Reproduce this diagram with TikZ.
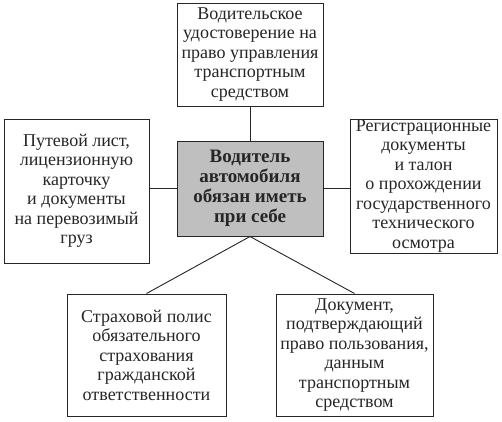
\documentclass[tikz,border=0pt]{standalone}
\usepackage{fontspec}
\setmainfont{Liberation Serif}
\begin{document}
\begin{tikzpicture}[x=1pt,y=-1pt,
  box/.style={draw=black!85,line width=1pt,fill=white,align=center,inner sep=0pt,
    font=\fontsize{18}{19.5}\selectfont,text=black!85},
  mainbox/.style={box,fill=black!25,font=\fontsize{19}{20}\selectfont\bfseries},
  conn/.style={draw=black!85,line width=0.9pt}]
\useasboundingbox[fill=white] (0,0) rectangle (502,421);
\node[mainbox,minimum width=146pt,minimum height=95pt] (c) at (250,188.5)
  {Водитель\\автомобиля\\обязан иметь\\при себе};
\node[box,minimum width=146pt,minimum height=103pt] (t) at (250,54.5)
  {Водительское\\удостоверение на\\право управления\\транспортным\\средством};
\node[box,minimum width=145pt,minimum height=144pt] (l) at (76.5,191)
  {Путевой лист,\\лицензионную\\карточку\\и документы\\на перевозимый\\груз};
\node[box,minimum width=147pt,minimum height=134pt] (r) at (423.5,186)
  {Регистрационные\\документы\\и талон\\о прохождении\\государственного\\технического\\осмотра};
\node[box,minimum width=159pt,minimum height=122pt] (bl) at (146.5,355)
  {Страховой полис\\обязательного\\страхования\\гражданской\\ответственности};
\node[box,minimum width=157pt,minimum height=122pt] (br) at (354.5,355)
  {Документ,\\подтверждающий\\право пользования,\\данным\\транспортным\\средством};
\draw[conn] (t.south) -- (c.north);
\draw[conn] (c.west) -- (c.west -| l.east);
\draw[conn] (c.east) -- (c.east -| r.west);
\draw[conn] (c.south) -- (bl.north);
\draw[conn] (c.south) -- (br.north);
\end{tikzpicture}
\end{document}
